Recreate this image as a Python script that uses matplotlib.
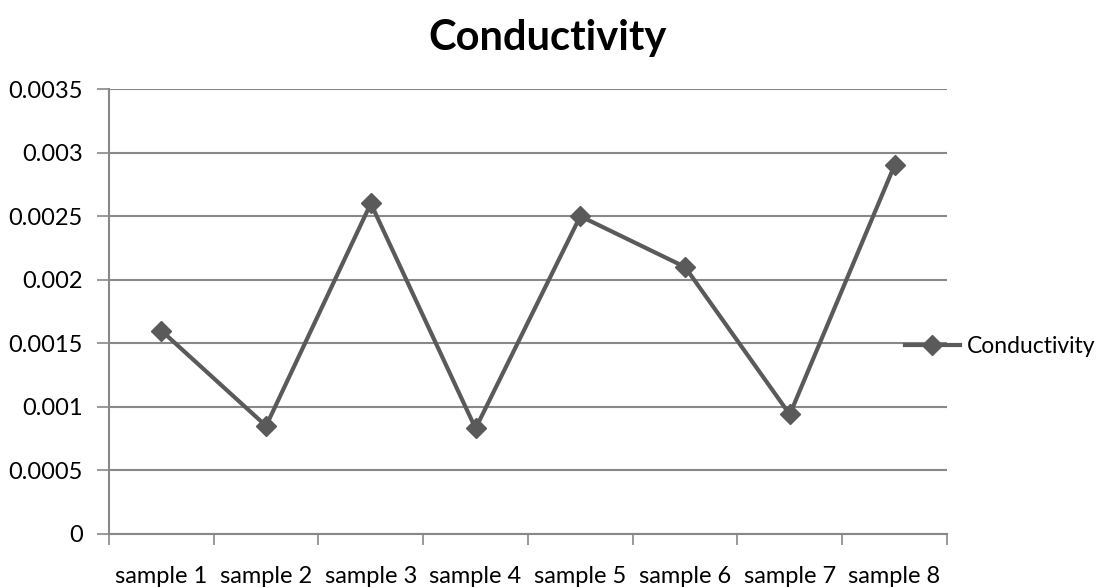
import matplotlib
matplotlib.use("Agg")
import matplotlib.pyplot as plt

categories = ["sample 1", "sample 2", "sample 3", "sample 4",
              "sample 5", "sample 6", "sample 7", "sample 8"]
conductivity = [0.0016, 0.00085, 0.0026, 0.00083, 0.0025, 0.0021, 0.00094, 0.0029]
yticks = [0, 0.0005, 0.001, 0.0015, 0.002, 0.0025, 0.003, 0.0035]
ytick_labels = ["0", "0.0005", "0.001", "0.0015", "0.002", "0.0025", "0.003", "0.0035"]

plt.rcParams["font.family"] = ["Lato", "DejaVu Sans"]

line_col = "#5a5a5a"
grid_col = "#888888"

fig = plt.figure(figsize=(11.04, 5.87), dpi=100)
ax = fig.add_axes((0.0987, 0.0903, 0.759, 0.758))

x = list(range(len(categories)))
ax.plot(x, conductivity, color=line_col, linewidth=3, marker="D",
        markersize=10, label="Conductivity")

ax.set_xlim(-0.5, len(categories) - 0.5)
ax.set_ylim(0, 0.0035)
ax.set_yticks(yticks)
ax.set_yticklabels(ytick_labels)
ax.set_xticks(x)
ax.set_xticklabels(categories)
ax.set_xticks([i - 0.5 for i in range(len(categories) + 1)], minor=True)
ax.tick_params(axis="x", which="major", length=0, pad=23, labelsize=17)
ax.tick_params(axis="x", which="minor", length=8, color=grid_col, width=1.2)
ax.tick_params(axis="y", length=9, color=grid_col, width=1.2, labelsize=17, pad=10)

ax.grid(axis="y", color=grid_col, linewidth=1.5)
ax.set_axisbelow(True)
for side in ["top", "right"]:
    ax.spines[side].set_visible(False)
for side in ["left", "bottom"]:
    ax.spines[side].set_color(grid_col)
    ax.spines[side].set_linewidth(1.5)

fig.text(0.496, 0.935, "Conductivity", ha="center", va="center",
         fontsize=30, fontweight="bold")

fig.legend(loc="center left", bbox_to_anchor=(0.8197, 0.409), frameon=False,
           fontsize=16.5, handlelength=2.4, handletextpad=0.3,
           borderpad=0, borderaxespad=0)

fig.savefig("out.png", dpi=100)
